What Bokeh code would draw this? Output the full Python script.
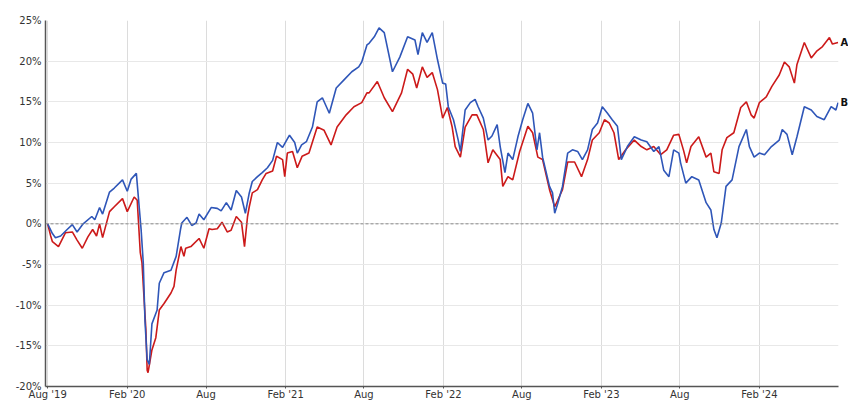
import pandas as pd
from bokeh.plotting import figure
from bokeh.models import (ColumnDataSource, FixedTicker, PrintfTickFormatter,
                          Span, Range1d, LinearAxis)
from bokeh.embed import file_html
from bokeh.resources import INLINE

# ---------------- data (cumulative return, %) ----------------
dates_a = [
    "2019-08-01", "2019-08-08", "2019-08-12", "2019-08-26", "2019-09-11", "2019-09-27",
    "2019-10-08", "2019-10-20", "2019-11-02", "2019-11-13", "2019-11-22", "2019-11-29",
    "2019-12-06", "2019-12-22", "2020-01-02", "2020-01-21", "2020-02-01", "2020-02-17",
    "2020-02-24", "2020-03-02", "2020-03-06", "2020-03-15", "2020-03-18", "2020-03-20",
    "2020-03-29", "2020-04-07", "2020-04-15", "2020-04-26", "2020-05-12", "2020-05-19",
    "2020-05-24", "2020-06-04", "2020-06-11", "2020-06-15", "2020-06-27", "2020-07-16",
    "2020-07-27", "2020-08-08", "2020-08-15", "2020-08-27", "2020-09-07", "2020-09-19",
    "2020-09-28", "2020-10-10", "2020-10-22", "2020-10-29", "2020-11-05", "2020-11-09",
    "2020-11-16", "2020-11-28", "2020-12-09", "2020-12-18", "2021-01-02", "2021-01-11",
    "2021-01-25", "2021-01-30", "2021-02-05", "2021-02-17", "2021-02-28", "2021-03-11",
    "2021-03-27", "2021-04-15", "2021-05-01", "2021-05-17", "2021-05-31", "2021-06-21",
    "2021-07-09", "2021-07-27", "2021-08-08", "2021-08-13", "2021-09-01", "2021-09-17",
    "2021-10-06", "2021-10-27", "2021-11-10", "2021-11-22", "2021-12-01", "2021-12-14",
    "2021-12-25", "2022-01-06", "2022-01-18", "2022-01-30", "2022-02-10", "2022-02-21",
    "2022-02-28", "2022-03-12", "2022-03-23", "2022-04-08", "2022-04-19", "2022-05-04",
    "2022-05-15", "2022-05-26", "2022-06-12", "2022-06-18", "2022-06-30", "2022-07-11",
    "2022-07-27", "2022-08-15", "2022-08-26", "2022-09-07", "2022-09-18", "2022-10-04",
    "2022-10-16", "2022-10-23", "2022-11-03", "2022-11-15", "2022-12-01", "2022-12-17",
    "2022-12-31", "2023-01-11", "2023-01-27", "2023-02-08", "2023-02-19", "2023-03-02",
    "2023-03-13", "2023-03-29", "2023-04-18", "2023-05-04", "2023-05-17", "2023-06-02",
    "2023-06-18", "2023-07-02", "2023-07-18", "2023-07-30", "2023-08-10", "2023-08-17",
    "2023-08-27", "2023-09-14", "2023-10-01", "2023-10-12", "2023-10-19", "2023-10-31",
    "2023-11-07", "2023-11-18", "2023-12-04", "2023-12-20", "2024-01-02", "2024-01-13",
    "2024-01-20", "2024-02-01", "2024-02-17", "2024-03-01", "2024-03-18", "2024-03-30",
    "2024-04-10", "2024-04-22", "2024-04-28", "2024-05-15", "2024-05-31", "2024-06-12",
    "2024-06-26", "2024-07-12", "2024-07-19", "2024-08-01",
]
values_a = [
    0.0, -1.5, -2.2, -2.8, -1.1, -1.0,
    -2.0, -3.0, -1.6, -0.7, -1.5, 0.0,
    -1.7, 1.5, 2.1, 3.1, 1.5, 3.3,
    2.9, -3.5, -4.8, -13.0, -18.0, -18.3,
    -15.5, -14.0, -10.6, -9.8, -8.5, -7.7,
    -5.7, -2.8, -4.0, -3.0, -2.8, -1.8,
    -3.0, -0.6, -0.7, -0.6, 0.2, -1.0,
    -0.8, 0.9, 0.2, -2.8, 0.9, 2.1,
    3.8, 4.2, 5.4, 6.2, 6.5, 8.3,
    7.9, 5.8, 8.7, 8.9, 6.9, 8.3,
    8.7, 11.9, 11.5, 9.7, 11.9, 13.4,
    14.4, 14.9, 16.1, 16.1, 17.5, 15.5,
    13.8, 16.1, 19.0, 18.4, 16.7, 19.3,
    18.0, 18.6, 16.5, 13.0, 14.3, 11.9,
    9.5, 8.2, 11.9, 13.4, 13.4, 11.6,
    7.5, 9.1, 7.9, 4.6, 5.8, 5.4,
    8.9, 12.0, 11.2, 8.2, 7.9, 4.2,
    2.1, 2.9, 4.2, 7.6, 7.6, 5.8,
    7.9, 10.3, 11.2, 12.8, 12.4, 11.2,
    7.9, 9.1, 10.3, 9.5, 9.1, 9.5,
    8.5, 9.1, 10.9, 11.0, 9.0, 7.5,
    9.5, 10.7, 8.2, 8.7, 6.4, 6.2,
    9.1, 10.6, 11.2, 14.3, 15.0, 13.4,
    13.0, 14.9, 15.6, 16.9, 18.3, 19.9,
    19.3, 17.3, 19.6, 22.3, 20.4, 21.2,
    21.8, 22.9, 22.1, 22.3,
]

dates_b = [
    "2019-08-01", "2019-08-12", "2019-08-19", "2019-08-31", "2019-09-15", "2019-09-27",
    "2019-10-08", "2019-10-22", "2019-11-11", "2019-11-18", "2019-11-29", "2019-12-06",
    "2019-12-22", "2020-01-02", "2020-01-21", "2020-02-01", "2020-02-10", "2020-02-22",
    "2020-03-04", "2020-03-09", "2020-03-13", "2020-03-18", "2020-03-23", "2020-03-29",
    "2020-04-10", "2020-04-15", "2020-04-26", "2020-05-12", "2020-05-24", "2020-06-03",
    "2020-06-06", "2020-06-18", "2020-06-29", "2020-07-09", "2020-07-16", "2020-07-27",
    "2020-08-13", "2020-08-27", "2020-09-05", "2020-09-17", "2020-09-28", "2020-10-10",
    "2020-10-22", "2020-10-31", "2020-11-09", "2020-11-16", "2020-11-28", "2020-12-09",
    "2020-12-21", "2021-01-02", "2021-01-13", "2021-01-25", "2021-02-10", "2021-02-22",
    "2021-02-28", "2021-03-10", "2021-03-21", "2021-04-04", "2021-04-15", "2021-04-27",
    "2021-05-13", "2021-05-29", "2021-06-16", "2021-07-04", "2021-07-20", "2021-07-27",
    "2021-08-08", "2021-08-13", "2021-08-25", "2021-09-05", "2021-09-17", "2021-10-06",
    "2021-10-23", "2021-11-10", "2021-11-27", "2021-12-04", "2021-12-14", "2021-12-25",
    "2022-01-06", "2022-01-18", "2022-01-30", "2022-02-06", "2022-02-12", "2022-02-24",
    "2022-03-07", "2022-03-12", "2022-03-23", "2022-04-04", "2022-04-15", "2022-04-22",
    "2022-05-04", "2022-05-15", "2022-05-24", "2022-06-05", "2022-06-12", "2022-06-23",
    "2022-06-30", "2022-07-11", "2022-07-23", "2022-08-03", "2022-08-15", "2022-08-26",
    "2022-09-05", "2022-09-11", "2022-09-18", "2022-10-04", "2022-10-11", "2022-10-16",
    "2022-10-23", "2022-11-03", "2022-11-15", "2022-11-26", "2022-12-08", "2022-12-19",
    "2022-12-31", "2023-01-11", "2023-01-23", "2023-02-03", "2023-02-15", "2023-02-26",
    "2023-03-10", "2023-03-19", "2023-04-02", "2023-04-18", "2023-05-04", "2023-05-17",
    "2023-06-02", "2023-06-14", "2023-06-25", "2023-07-07", "2023-07-18", "2023-07-30",
    "2023-08-03", "2023-08-15", "2023-08-29", "2023-09-14", "2023-10-01", "2023-10-12",
    "2023-10-19", "2023-10-26", "2023-11-05", "2023-11-16", "2023-11-30", "2023-12-16",
    "2024-01-02", "2024-01-09", "2024-01-20", "2024-02-01", "2024-02-13", "2024-02-29",
    "2024-03-18", "2024-03-25", "2024-04-05", "2024-04-17", "2024-04-28", "2024-05-15",
    "2024-05-31", "2024-06-13", "2024-06-30", "2024-07-16", "2024-07-27", "2024-08-01",
]
values_b = [
    0.0, -1.2, -1.7, -1.5, -0.7, -0.1,
    -1.0, 0.0, 0.9, 0.5, 2.0, 1.2,
    3.9, 4.4, 5.4, 4.0, 5.5, 6.2,
    -0.7, -4.8, -12.0, -16.7, -17.3, -12.3,
    -10.6, -7.3, -6.0, -5.7, -4.0, -0.7,
    0.1, 0.8, -0.2, 0.1, 1.2, 0.5,
    2.0, 1.9, 1.6, 2.6, 1.7, 4.1,
    3.3, 1.3, 3.8, 5.2, 5.8, 6.3,
    6.9, 7.8, 10.0, 9.4, 10.9, 10.0,
    8.7, 9.7, 10.1, 11.9, 15.0, 15.5,
    13.6, 16.7, 17.7, 18.7, 19.3, 19.9,
    22.0, 22.2, 23.0, 24.1, 23.5, 18.7,
    20.5, 23.0, 22.6, 20.8, 23.5, 22.3,
    23.5, 20.2, 17.3, 17.2, 14.4, 12.8,
    10.3, 8.9, 14.0, 14.9, 15.3, 14.4,
    13.0, 10.3, 10.8, 12.2, 9.5, 6.3,
    8.7, 7.9, 10.7, 12.8, 14.8, 13.6,
    9.1, 11.2, 8.2, 4.6, 3.8, 1.3,
    2.5, 4.6, 8.7, 9.1, 8.9, 7.9,
    9.1, 11.6, 12.4, 14.4, 13.6, 12.8,
    12.0, 7.9, 9.5, 10.7, 10.3, 10.1,
    8.9, 9.5, 6.6, 5.8, 9.1, 8.7,
    7.5, 5.0, 5.8, 5.4, 2.6, 1.7,
    -0.7, -1.7, 0.1, 4.6, 5.4, 9.5,
    11.6, 9.5, 8.2, 8.7, 8.5, 9.5,
    10.3, 11.6, 11.0, 8.5, 10.7, 14.4,
    14.0, 13.2, 12.8, 14.4, 14.0, 14.9,
]

tick_dates = ["2019-08-01", "2020-02-01", "2020-08-01", "2021-02-01", "2021-08-01",
              "2022-02-01", "2022-08-01", "2023-02-01", "2023-08-01", "2024-02-01"]
tick_labels = ["Aug '19", "Feb '20", "Aug", "Feb '21", "Aug",
               "Feb '22", "Aug", "Feb '23", "Aug", "Feb '24"]
y_ticks = [-20, -15, -10, -5, 0, 5, 10, 15, 20, 25]
series_names = ["A", "B"]
series_colors = ["#cc1a1a", "#2f56b8"]

# ---------------- figure ----------------
FONT = "DejaVu Sans"

src_a = ColumnDataSource(dict(x=pd.to_datetime(dates_a), y=values_a))
src_b = ColumnDataSource(dict(x=pd.to_datetime(dates_b), y=values_b))

x_start = pd.Timestamp("2019-07-27")
x_end = pd.Timestamp("2024-08-02")

p = figure(x_axis_type="datetime", output_backend="svg", toolbar_location=None,
           frame_width=793, frame_height=366,
           x_range=Range1d(x_start, x_end), y_range=Range1d(-20, 25),
           min_border_left=45, min_border_right=10, min_border_top=20,
           min_border_bottom=10)
p.background_fill_color = "white"
p.border_fill_color = "white"
p.outline_line_color = None

# grid
p.xgrid.grid_line_color = "#dcdcdc"
p.ygrid.grid_line_color = "#e8e8e8"
p.xgrid.grid_line_width = 1
p.ygrid.grid_line_width = 1

# axes
tick_ms = [pd.Timestamp(d).value // 10**6 for d in tick_dates]
p.xaxis.ticker = FixedTicker(ticks=tick_ms)
p.xaxis.major_label_overrides = {t: l for t, l in zip(tick_ms, tick_labels)}
p.xaxis.minor_tick_line_color = None
p.xaxis.major_tick_out = 2
p.xaxis.major_tick_in = 0
p.xaxis.major_label_standoff = 0
p.yaxis.ticker = FixedTicker(ticks=y_ticks)
p.yaxis.formatter = PrintfTickFormatter(format="%d%%")
p.yaxis.minor_tick_line_color = None
p.yaxis.major_tick_out = 0
p.yaxis.major_tick_in = 0
p.yaxis.major_label_standoff = 4
for ax in (p.xaxis, p.yaxis):
    ax.axis_line_color = "#555555"
    ax.axis_line_width = 1.5
    ax.major_tick_line_color = "#555555"
    ax.major_label_text_font = FONT
    ax.major_label_text_font_size = "10px"
    ax.major_label_text_color = "#333333"

# zero line
p.add_layout(Span(location=0, dimension="width", line_color="#888888",
                  line_dash="3 2", line_width=1))

# series
p.line("x", "y", source=src_a, line_color=series_colors[0], line_width=1.6)
p.line("x", "y", source=src_b, line_color=series_colors[1], line_width=1.6)

# end labels: series names placed on a label-only axis at the right edge
end_values = [values_a[-1], values_b[-1]]
name_axis = LinearAxis(ticker=FixedTicker(ticks=end_values),
                       major_label_overrides={v: n for v, n in zip(end_values, series_names)},
                       axis_line_color=None, major_tick_line_color=None,
                       minor_tick_line_color=None, major_tick_out=0, major_tick_in=0,
                       major_label_standoff=2,
                       major_label_text_font=FONT, major_label_text_font_size="10px",
                       major_label_text_font_style="bold",
                       major_label_text_color="#111111")
p.add_layout(name_axis, "right")

open("out.html", "w").write(file_html(p, INLINE))
